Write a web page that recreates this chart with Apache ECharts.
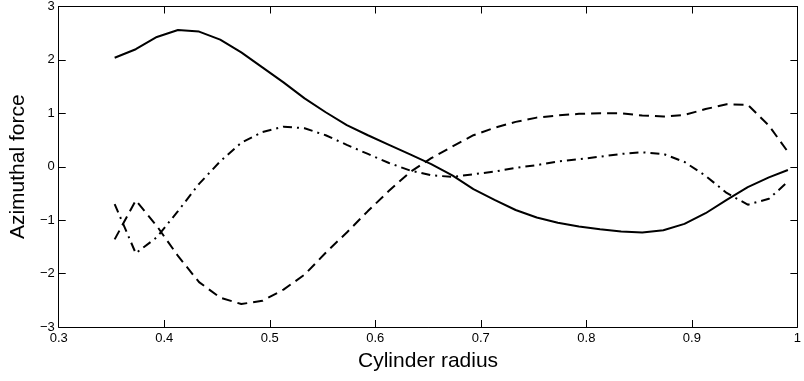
<!DOCTYPE html>
<html>
<head>
<meta charset="utf-8">
<title>Azimuthal force vs cylinder radius</title>
<script src="https://cdn.jsdelivr.net/npm/echarts@6/dist/echarts.min.js"></script>
<style>
  html, body { margin: 0; padding: 0; background: #fff; }
  #chart { width: 804px; height: 381px; }
</style>
</head>
<body>
<div id="chart"></div>
<script>
// radius samples shared by all three curves
const radius = [
  0.353, 0.373, 0.393, 0.413, 0.433, 0.453, 0.473, 0.493, 0.513, 0.533, 0.553,
  0.573, 0.593, 0.613, 0.633, 0.653, 0.673, 0.693, 0.713, 0.733, 0.753, 0.773,
  0.793, 0.813, 0.833, 0.853, 0.873, 0.893, 0.913, 0.933, 0.953, 0.973, 0.991
];

// solid curve
const forceSolid = [
  2.04, 2.20, 2.43, 2.56, 2.53, 2.38, 2.14, 1.86, 1.58, 1.28, 1.02,
  0.78, 0.59, 0.41, 0.23, 0.05, -0.16, -0.42, -0.62, -0.81, -0.95, -1.05,
  -1.12, -1.17, -1.21, -1.23, -1.19, -1.07, -0.87, -0.62, -0.38, -0.20, -0.06
];

// dashed curve
const forceDashed = [
  -1.36, -0.63, -1.11, -1.67, -2.16, -2.45, -2.57, -2.51, -2.30, -2.02, -1.61,
  -1.23, -0.83, -0.45, -0.10, 0.16, 0.38, 0.59, 0.73, 0.84, 0.92, 0.96,
  0.99, 1.00, 1.00, 0.96, 0.94, 0.97, 1.08, 1.17, 1.16, 0.77, 0.28
];

// dash-dot curve
const forceDashDot = [
  -0.70, -1.62, -1.32, -0.83, -0.32, 0.10, 0.45, 0.65, 0.75, 0.72, 0.59,
  0.41, 0.24, 0.07, -0.07, -0.16, -0.19, -0.14, -0.09, -0.02, 0.03, 0.10,
  0.14, 0.19, 0.24, 0.27, 0.24, 0.09, -0.17, -0.49, -0.71, -0.60, -0.28
];

const xTicks = [0.3, 0.4, 0.5, 0.6, 0.7, 0.8, 0.9, 1];
const yTicks = [-3, -2, -1, 0, 1, 2, 3];

const FONT = '"Liberation Sans", Arial, Helvetica, sans-serif';

function pairs(ys) {
  return radius.map((x, i) => [x, ys[i]]);
}

function fmtX(v) {
  return String(+v.toFixed(1));
}

function fmtY(v) {
  const s = String(Math.round(v));
  return s.replace('-', '\u2212');
}

const tick = { show: true, inside: true, length: 7, lineStyle: { color: '#000', width: 1 } };
const line = { show: true, onZero: false, lineStyle: { color: '#000', width: 1 } };

const chart = echarts.init(document.getElementById('chart'), null, { renderer: 'canvas' });

const option = {
  backgroundColor: '#ffffff',
  animation: false,
  grid: { left: 53, right: 2, top: 3, bottom: 54, containLabel: false },
  xAxis: [
    {
      type: 'value',
      position: 'bottom',
      min: xTicks[0],
      max: xTicks[xTicks.length - 1],
      interval: 0.1,
      axisLine: line,
      axisTick: tick,
      splitLine: { show: false },
      axisLabel: {
        color: '#000', fontFamily: FONT, fontSize: 13, margin: 5,
        formatter: fmtX
      },
      name: 'Cylinder radius',
      nameLocation: 'middle',
      nameGap: 24,
      nameTextStyle: { color: '#000', fontFamily: FONT, fontSize: 21 }
    },
    {
      type: 'value',
      position: 'top',
      min: xTicks[0],
      max: xTicks[xTicks.length - 1],
      interval: 0.1,
      axisLine: line,
      axisTick: tick,
      splitLine: { show: false },
      axisLabel: { show: false }
    }
  ],
  yAxis: [
    {
      type: 'value',
      position: 'left',
      min: yTicks[0],
      max: yTicks[yTicks.length - 1],
      interval: 1,
      axisLine: line,
      axisTick: tick,
      splitLine: { show: false },
      axisLabel: {
        color: '#000', fontFamily: FONT, fontSize: 13, margin: 4,
        formatter: fmtY
      },
      name: 'Azimuthal force',
      nameLocation: 'middle',
      nameGap: 27,
      nameRotate: 90,
      nameTextStyle: { color: '#000', fontFamily: FONT, fontSize: 21 }
    },
    {
      type: 'value',
      position: 'right',
      min: yTicks[0],
      max: yTicks[yTicks.length - 1],
      interval: 1,
      axisLine: line,
      axisTick: tick,
      splitLine: { show: false },
      axisLabel: { show: false }
    }
  ],
  series: [
    {
      name: 'solid',
      type: 'line',
      data: pairs(forceSolid),
      showSymbol: false,
      symbol: 'none',
      lineStyle: { color: '#000', width: 2, type: 'solid' }
    },
    {
      name: 'dashed',
      type: 'line',
      data: pairs(forceDashed),
      showSymbol: false,
      symbol: 'none',
      lineStyle: { color: '#000', width: 2, type: [10, 6] }
    },
    {
      name: 'dashdot',
      type: 'line',
      data: pairs(forceDashDot),
      showSymbol: false,
      symbol: 'none',
      lineStyle: { color: '#000', width: 2, type: [9, 5, 2, 5] }
    }
  ]
};

chart.setOption(option);
</script>
</body>
</html>
